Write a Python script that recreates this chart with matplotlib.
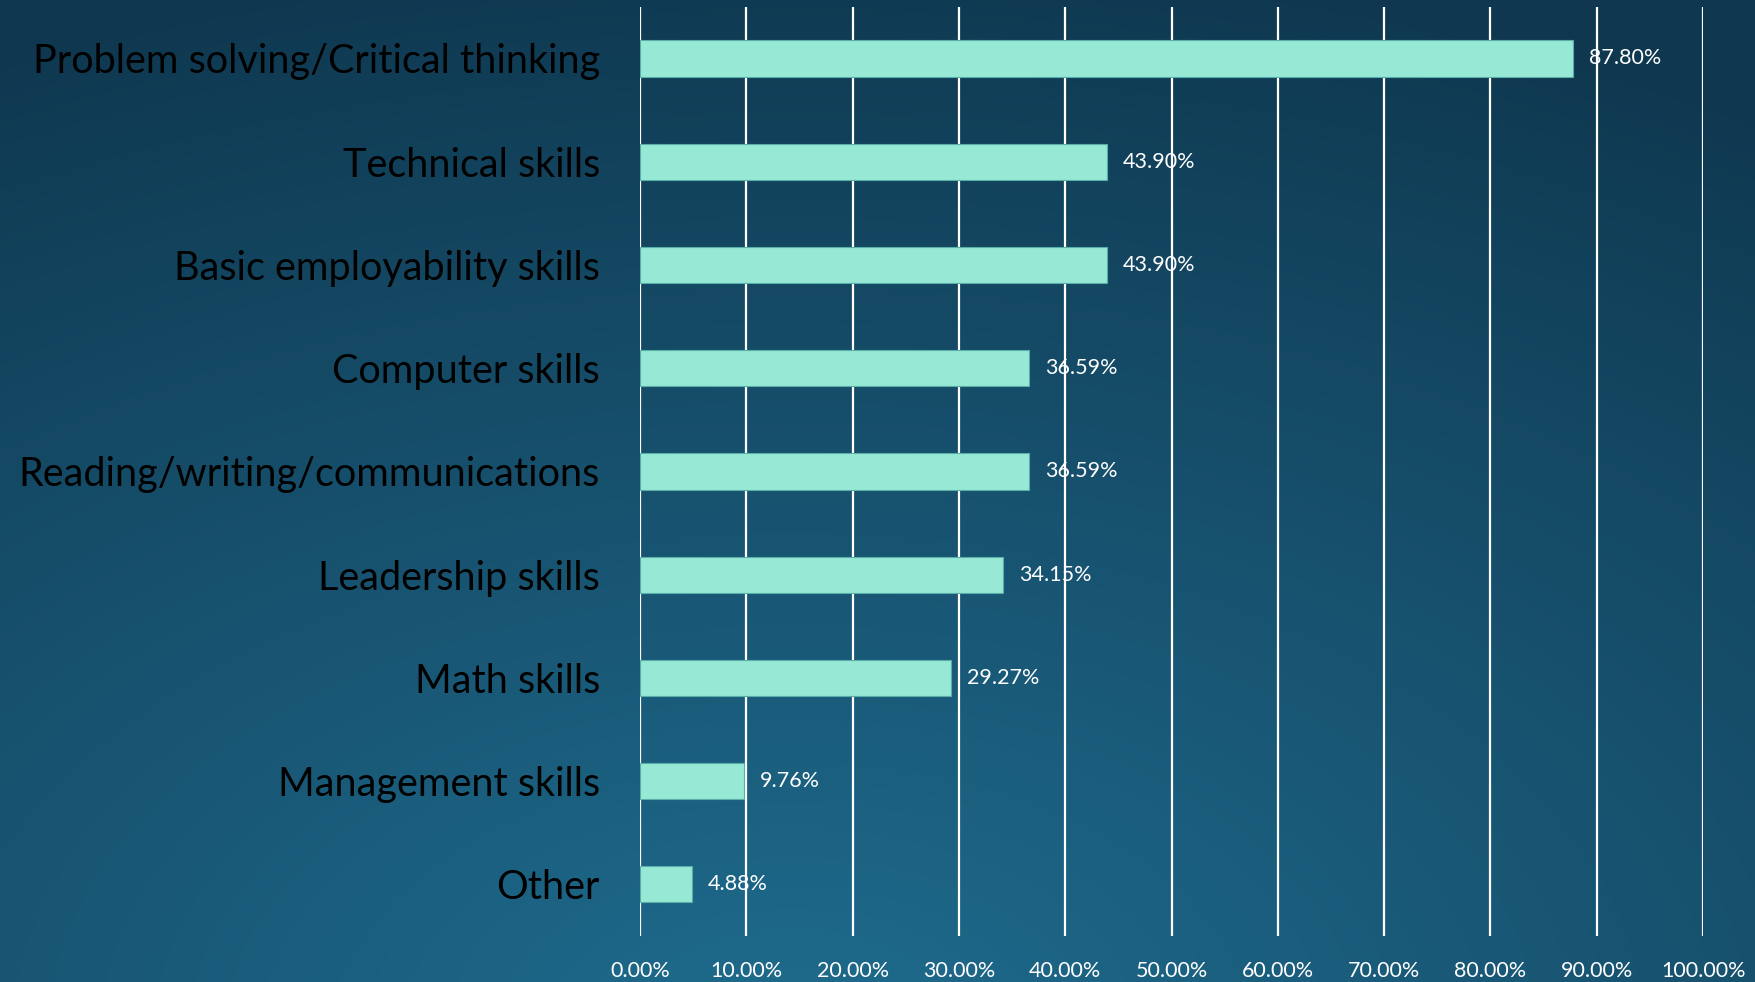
import matplotlib.pyplot as plt
import numpy as np

plt.rcParams['font.family'] = ['Lato', 'DejaVu Sans']

skills = ["Problem solving/Critical thinking", "Technical skills", "Basic employability skills",
          "Computer skills", "Reading/writing/communications", "Leadership skills",
          "Math skills", "Management skills", "Other"]
shares = [87.80, 43.90, 43.90, 36.59, 36.59, 34.15, 29.27, 9.76, 4.88]
ticks = [0, 10, 20, 30, 40, 50, 60, 70, 80, 90, 100]

fig = plt.figure(figsize=(17.55, 9.82), dpi=100)

# background: dark teal, lighter towards the bottom middle
bg = fig.add_axes([0, 0, 1, 1], zorder=-10)
h, w = 200, 360
yy, xx = np.mgrid[0:h, 0:w]
d = np.sqrt(((xx - w * 0.45) / w) ** 2 + ((yy - h * 1.05) / h) ** 2 * 0.9)
t = np.clip(d / 1.05, 0, 1)[..., None]
light = np.array([0x1f, 0x6c, 0x8e]) / 255
dark = np.array([0x0f, 0x38, 0x50]) / 255
img = light * (1 - t) + dark * t
bg.imshow(img, aspect='auto', extent=[0, 1, 0, 1], interpolation='bicubic')
bg.axis('off')

ax = fig.add_axes([0.3647, 0.0468, 0.6057, 0.9462])
ax.patch.set_alpha(0)
y = np.arange(len(skills))
ax.barh(y, shares, height=0.35, color='#98e8d6', edgecolor='#5aaea8', linewidth=0.8, zorder=3)
for yi, v in zip(y, shares):
    ax.text(v + 1.5, yi, f"{v:.2f}%", va='center', ha='left', color='white', fontsize=15.5, zorder=4)

ax.set_xlim(0, 100)
ax.set_ylim(len(skills) - 0.5, -0.5)
ax.set_xticks(ticks)
ax.set_xticklabels([f"{t_:.2f}%" for t_ in ticks], color='white', fontsize=15.5)
ax.set_yticks(y)
ax.set_yticklabels(skills, fontsize=28.5, color='black')
ax.tick_params(axis='both', length=0)
ax.tick_params(axis='y', pad=29)
ax.tick_params(axis='x', pad=18)
ax.grid(axis='x', color='white', linewidth=1.6, zorder=1)
ax.set_axisbelow(True)
for s in ax.spines.values():
    s.set_visible(False)

fig.savefig("out.png", dpi=100)
